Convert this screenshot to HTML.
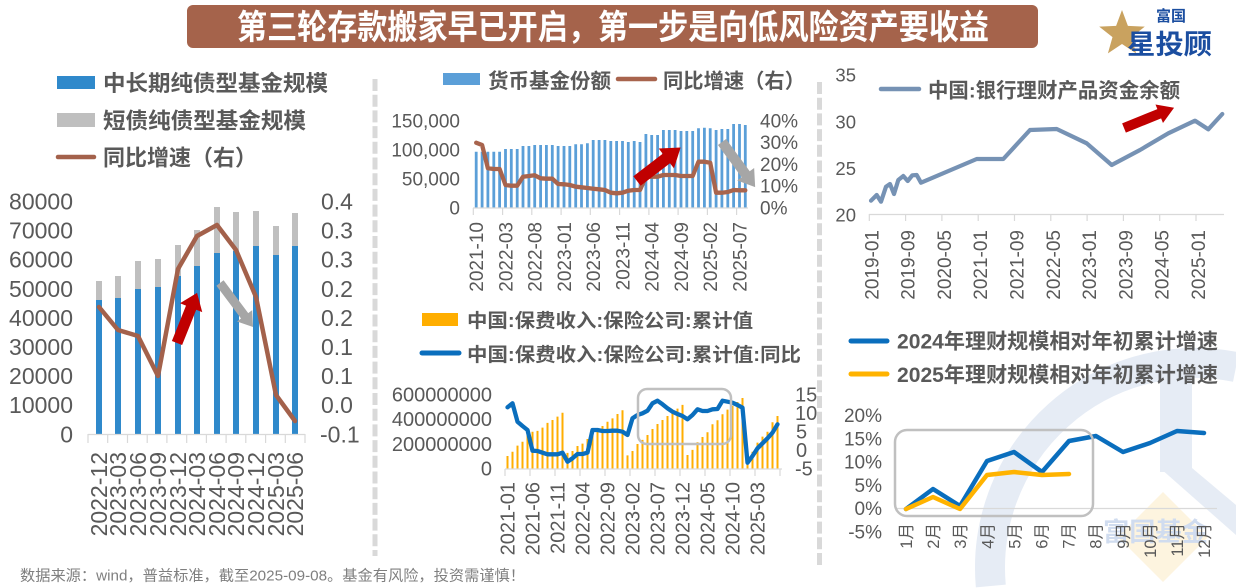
<!DOCTYPE html>
<html><head><meta charset="utf-8">
<style>
html,body{margin:0;padding:0;background:#fff;width:1236px;height:588px;overflow:hidden;}
svg{display:block;position:absolute;left:0;top:0;}
text{font-family:"Liberation Sans","Noto Sans CJK SC",sans-serif;}
.lb{fill:#595959;}
.lg{font-weight:bold;fill:#595959;}
</style></head><body>
<svg width="1236" height="588" viewBox="0 0 1236 588" xmlns="http://www.w3.org/2000/svg" overflow="hidden">
<rect width="1236" height="588" fill="#fff"/>

<!-- watermark -->
<g>
<path d="M990.8 586 A205 205 0 0 1 1236 367.1" fill="none" stroke="#e6ecf5" stroke-width="30"/>
<rect x="1160" y="360" width="32" height="112" fill="#e6ecf5"/>
<polygon points="1160,468 1192,468 1236,505 1236,535" fill="#e6ecf5"/>
<polygon points="1163,492 1208,537 1163,582 1118,537" fill="#fdf4df"/>
<text x="1103" y="541" font-size="26" font-weight="bold" fill="#d0dcef" textLength="105" lengthAdjust="spacingAndGlyphs">富国基金</text>
</g>

<!-- title banner -->
<rect x="187" y="5" width="851" height="43" rx="6" fill="#a5634b"/>
<text x="613" y="39" text-anchor="middle" font-size="34" font-weight="bold" fill="#fff" style="font-family:'Noto Sans CJK SC',sans-serif" textLength="752" lengthAdjust="spacingAndGlyphs">第三轮存款搬家早已开启，第一步是向低风险资产要收益</text>

<!-- logo -->
<polygon points="1122,10 1127.9,25.9 1144.8,26.6 1131.5,37.1 1136.1,53.4 1122,44 1107.9,53.4 1112.5,37.1 1099.2,26.6 1116.1,25.9" fill="#c9a25f"/>
<text x="1156" y="21" font-size="15" font-weight="bold" fill="#1b4ea0" style="font-family:'Noto Sans CJK SC',sans-serif">富国</text>
<text x="1127" y="54" font-size="27" font-weight="bold" fill="#1b4ea0" style="font-family:'Noto Sans CJK SC',sans-serif" textLength="85" lengthAdjust="spacingAndGlyphs">星投顾</text>

<!-- separators -->
<line x1="375" y1="79" x2="375" y2="556" stroke="#d9d9d9" stroke-width="5" stroke-dasharray="12 3.7"/>
<line x1="819.5" y1="82" x2="819.5" y2="568" stroke="#d9d9d9" stroke-width="5" stroke-dasharray="12 3.7"/>

<!-- ================= Chart 1 ================= -->
<rect x="57" y="76" width="38" height="13" fill="#2f89cb"/>
<text class="lg" x="103" y="91" font-size="22" textLength="225" lengthAdjust="spacingAndGlyphs">中长期纯债型基金规模</text>
<rect x="57" y="113" width="38" height="14" fill="#bfbfbf"/>
<text class="lg" x="103" y="128.5" font-size="22" textLength="203" lengthAdjust="spacingAndGlyphs">短债纯债型基金规模</text>
<line x1="58" y1="157" x2="94" y2="157" stroke="#a3614b" stroke-width="4.5" stroke-linecap="round"/>
<text class="lg" x="103" y="165.5" font-size="22">同比增速（右）</text>

<g font-size="23" class="lb" text-anchor="end">
<text x="73" y="442.3">0</text>
<text x="73" y="413.2">10000</text>
<text x="73" y="384.1">20000</text>
<text x="73" y="355">30000</text>
<text x="73" y="325.9">40000</text>
<text x="73" y="296.8">50000</text>
<text x="73" y="267.7">60000</text>
<text x="73" y="238.6">70000</text>
<text x="73" y="209.5">80000</text>
</g>
<g font-size="23" class="lb">
<text x="320" y="442.3">-0.1</text>
<text x="321" y="413.2">0.0</text>
<text x="321" y="384.1">0.1</text>
<text x="321" y="355">0.1</text>
<text x="321" y="325.9">0.2</text>
<text x="321" y="296.8">0.2</text>
<text x="321" y="267.7">0.3</text>
<text x="321" y="238.6">0.3</text>
<text x="321" y="209.5">0.4</text>
</g>
<path d="M99 281V300M118 276V298M138 261V289M158 259V287M178 245V276M197 230V266M217 207V253M236 212V251M256 211V246M276 226V255M295 213V246" stroke="#bfbfbf" stroke-width="6"/>
<path d="M99 300V434M118 298V434M138 289V434M158 287V434M178 276V434M197 266V434M217 253V434M236 251V434M256 246V434M276 255V434M295 246V434" stroke="#2f89cb" stroke-width="6"/>
<path d="M88 434.5H305M88 434V443M107.7 434V443M127.5 434V443M147.2 434V443M166.9 434V443M186.7 434V443M206.4 434V443M226.1 434V443M245.8 434V443M265.6 434V443M285.3 434V443M305 434V443" stroke="#d9d9d9" stroke-width="1.2" fill="none"/>
<polyline points="99,307 118,330 138,336 158,376 178,269 197,236 217,225 236,250 256,297 276,395 295,421" fill="none" stroke="#a3614b" stroke-width="4.5" stroke-linejoin="round" stroke-linecap="round"/>
<polygon transform="translate(177,343) rotate(-68.2)" points="0,-5.5 38,-5.5 38,-12 54,0 38,12 38,5.5 0,5.5" fill="#c00000"/>
<polygon transform="translate(220,283) rotate(53.1)" points="0,-4.5 41,-4.5 41,-9.5 55,0 41,9.5 41,4.5 0,4.5" fill="#a6a6a6"/>
<g font-size="23" class="lb" text-anchor="end">
<text transform="translate(106.8,452) rotate(-90)">2022-12</text>
<text transform="translate(125.8,452) rotate(-90)">2023-03</text>
<text transform="translate(145.8,452) rotate(-90)">2023-06</text>
<text transform="translate(165.8,452) rotate(-90)">2023-09</text>
<text transform="translate(185.8,452) rotate(-90)">2023-12</text>
<text transform="translate(204.8,452) rotate(-90)">2024-03</text>
<text transform="translate(224.8,452) rotate(-90)">2024-06</text>
<text transform="translate(243.8,452) rotate(-90)">2024-09</text>
<text transform="translate(263.8,452) rotate(-90)">2024-12</text>
<text transform="translate(283.8,452) rotate(-90)">2025-03</text>
<text transform="translate(302.8,452) rotate(-90)">2025-06</text>
</g>

<!-- ================= Chart 2 ================= -->
<rect x="443" y="73" width="37" height="12" fill="#5b9fd8"/>
<text class="lg" x="488" y="88" font-size="20.5" textLength="123" lengthAdjust="spacingAndGlyphs">货币基金份额</text>
<line x1="618" y1="79" x2="655" y2="79" stroke="#a8644d" stroke-width="4.5" stroke-linecap="round"/>
<text class="lg" x="663" y="88" font-size="20.3">同比增速（右）</text>

<g font-size="19" class="lb" text-anchor="end">
<text x="460" y="214.3">0</text>
<text x="460" y="185.3">50,000</text>
<text x="460" y="156.3">100,000</text>
<text x="460" y="127.3">150,000</text>
</g>
<g font-size="19" class="lb">
<text x="760" y="214.3">0%</text>
<text x="760" y="192.5">10%</text>
<text x="760" y="170.8">20%</text>
<text x="760" y="149">30%</text>
<text x="760" y="127.3">40%</text>
</g>
<path d="M476.2 151.7V207.5M482.1 151.7V207.5M487.9 151.7V207.5M493.8 151.7V207.5M499.6 151.7V207.5M505.5 149V207.5M511.3 149V207.5M517.2 149V207.5M523 146V207.5M528.9 146V207.5M534.7 145V207.5M540.6 145V207.5M546.4 145V207.5M552.3 145V207.5M558.1 146V207.5M564 146V207.5M569.8 146V207.5M575.7 144.3V207.5M581.5 144.3V207.5M587.4 143.3V207.5M593.2 140V207.5M599.1 140V207.5M604.9 140V207.5M610.8 141V207.5M616.6 141V207.5M622.5 141V207.5M628.3 142V207.5M634.2 141V207.5M640 142V207.5M645.9 134V207.5M651.7 135V207.5M657.6 135V207.5M663.4 130V207.5M669.3 130V207.5M675.1 130V207.5M681 131V207.5M686.8 131V207.5M692.7 131V207.5M698.5 128.3V207.5M704.4 127.7V207.5M710.2 128.3V207.5M716.1 130V207.5M721.9 129V207.5M727.8 129V207.5M733.6 124V207.5M739.5 124V207.5M745.3 125V207.5" stroke="#5b9fd8" stroke-width="2.8"/>
<path d="M473 208H748M473.3 208V215M502.6 208V215M531.8 208V215M561.1 208V215M590.3 208V215M619.6 208V215M648.9 208V215M678.1 208V215M707.4 208V215M736.6 208V215" stroke="#d9d9d9" stroke-width="1.2" fill="none"/>
<polyline points="476.2,142.7 482.1,145 487.9,168.3 493.8,169 499.6,169 505.5,185 511.3,185.7 517.2,185.7 523,176.7 528.9,176 534.7,175.3 540.6,178.3 546.4,178.7 552.3,178.7 558.1,184 564,184.3 569.8,185 575.7,186.7 581.5,187.3 587.4,188 593.2,188.7 599.1,189.3 604.9,190 610.8,192.7 616.6,193.3 622.5,192.7 628.3,190.7 634.2,190 640,190 645.9,176.7 651.7,176.7 657.6,176.7 663.4,175 669.3,175 675.1,175 681,176 686.8,176 692.7,176 698.5,161.7 704.4,161.7 710.2,162.7 716.1,192.7 721.9,192.7 727.8,192 733.6,190 739.5,190.3 745.3,190.3" fill="none" stroke="#a8644d" stroke-width="4.3" stroke-linejoin="round" stroke-linecap="round"/>
<polygon transform="translate(637,181) rotate(-37.5)" points="0,-6 37,-6 37,-12.5 55,0 37,12.5 37,6 0,6" fill="#c00000"/>
<polygon transform="translate(722,142) rotate(53.7)" points="0,-5 40,-5 40,-10.5 56,0 40,10.5 40,5 0,5" fill="#a6a6a6"/>
<g font-size="19" class="lb" text-anchor="end">
<text transform="translate(483,222) rotate(-90)">2021-10</text>
<text transform="translate(512.3,222) rotate(-90)">2022-03</text>
<text transform="translate(541.5,222) rotate(-90)">2022-08</text>
<text transform="translate(570.8,222) rotate(-90)">2023-01</text>
<text transform="translate(600,222) rotate(-90)">2023-06</text>
<text transform="translate(629.3,222) rotate(-90)">2023-11</text>
<text transform="translate(658.5,222) rotate(-90)">2024-04</text>
<text transform="translate(687.8,222) rotate(-90)">2024-09</text>
<text transform="translate(717,222) rotate(-90)">2025-02</text>
<text transform="translate(746.3,222) rotate(-90)">2025-07</text>
</g>

<!-- ================= Chart 3 ================= -->
<rect x="422" y="313" width="36" height="13" fill="#ffae00"/>
<text class="lg" x="467" y="327" font-size="19" textLength="286" lengthAdjust="spacingAndGlyphs">中国:保费收入:保险公司:累计值</text>
<line x1="422" y1="353" x2="459" y2="353" stroke="#0a6ebd" stroke-width="5" stroke-linecap="round"/>
<text class="lg" x="467" y="361" font-size="19" textLength="334" lengthAdjust="spacingAndGlyphs">中国:保费收入:保险公司:累计值:同比</text>

<g font-size="20" class="lb" text-anchor="end">
<text x="492" y="475.5">0</text>
<text x="492" y="450.8">200000000</text>
<text x="492" y="426.1">400000000</text>
<text x="492" y="401.4">600000000</text>
</g>
<g font-size="20" class="lb">
<text x="795" y="475.5">-5</text>
<text x="796" y="457">0</text>
<text x="796" y="438.5">5</text>
<text x="795" y="420">10</text>
<text x="795" y="401.4">15</text>
</g>
<path d="M507.5 456V468.5M512.5 451.7V468.5M517.5 445.6V468.5M522.5 441.7V468.5M527.5 435V468.5M532.5 431.7V468.5M537.5 430.9V468.5M542.5 427.6V468.5M547.5 422.9V468.5M552.5 420V468.5M557.5 416.6V468.5M562.5 412.7V468.5M567.5 452.9V468.5M572.5 451V468.5M577.5 446V468.5M582.5 443.6V468.5M587.5 439V468.5M592.5 430V468.5M597.5 429.1V468.5M602.5 426V468.5M607.5 421.7V468.5M612.5 418.4V468.5M617.5 414V468.5M622.5 410.3V468.5M627.5 455.4V468.5M632.5 451V468.5M637.5 444V468.5M642.5 439.9V468.5M647.5 435V468.5M652.5 429V468.5M657.5 424V468.5M662.5 420V468.5M667.5 416V468.5M672.5 413.3V468.5M677.5 408.6V468.5M682.5 404.9V468.5M687.5 455V468.5M692.5 449.9V468.5M697.5 442.3V468.5M702.5 437V468.5M707.5 432.3V468.5M712.5 424.3V468.5M717.5 420.3V468.5M722.5 414.3V468.5M727.5 409.6V468.5M732.5 405.7V468.5M737.5 402V468.5M742.5 398V468.5M747.5 453.5V468.5M752.5 451.7V468.5M757.5 442.6V468.5M762.5 436.6V468.5M767.5 431.7V468.5M772.5 422.3V468.5M777.5 416V468.5" stroke="#ffae00" stroke-width="2"/>
<path d="M505 469H782M505 469V476M530 469V476M555 469V476M580 469V476M605 469V476M630 469V476M655 469V476M680 469V476M705 469V476M730 469V476M755 469V476M780 469V476" stroke="#d9d9d9" stroke-width="1.2" fill="none"/>
<polyline points="507.5,407.3 512.5,403.3 517.5,421.7 522.5,426 527.5,430 532.5,450.7 537.5,451 542.5,452.7 547.5,454.3 552.5,454.3 557.5,454.3 562.5,452.7 567.5,461.7 572.5,458.3 577.5,454 582.5,454 587.5,452.7 592.5,430 597.5,430 602.5,431 607.5,431 612.5,430.7 617.5,430.7 622.5,431.7 627.5,435 632.5,418.3 637.5,415 642.5,413.3 647.5,410.7 652.5,403.3 657.5,400.7 662.5,404.3 667.5,408.3 672.5,411.7 677.5,414 682.5,416 687.5,419.3 692.5,415 697.5,409.3 702.5,411 707.5,411 712.5,409.3 717.5,409 722.5,400.7 727.5,401.7 732.5,402.7 737.5,405 742.5,407.7 747.5,462.7 752.5,456 757.5,448.3 762.5,443.3 767.5,438.3 772.5,432.7 777.5,424.3" fill="none" stroke="#0a6ebd" stroke-width="4.3" stroke-linejoin="round" stroke-linecap="round"/>
<rect x="638" y="389" width="93" height="55" rx="9" fill="none" stroke="#c0c0c0" stroke-width="2.5"/>
<g font-size="20" class="lb" text-anchor="end">
<text transform="translate(514.7,482) rotate(-90)">2021-01</text>
<text transform="translate(539.7,482) rotate(-90)">2021-06</text>
<text transform="translate(564.7,482) rotate(-90)">2021-11</text>
<text transform="translate(589.7,482) rotate(-90)">2022-04</text>
<text transform="translate(614.7,482) rotate(-90)">2022-09</text>
<text transform="translate(639.7,482) rotate(-90)">2023-02</text>
<text transform="translate(664.7,482) rotate(-90)">2023-07</text>
<text transform="translate(689.7,482) rotate(-90)">2023-12</text>
<text transform="translate(714.7,482) rotate(-90)">2024-05</text>
<text transform="translate(739.7,482) rotate(-90)">2024-10</text>
<text transform="translate(764.7,482) rotate(-90)">2025-03</text>
</g>

<!-- ================= Chart 4 ================= -->
<line x1="881" y1="89" x2="919" y2="89" stroke="#7692b4" stroke-width="4.5" stroke-linecap="round"/>
<text class="lg" x="928" y="97.5" font-size="20.5" textLength="252" lengthAdjust="spacingAndGlyphs">中国:银行理财产品资金余额</text>
<g font-size="18.5" class="lb" text-anchor="end">
<text x="856" y="221.7">20</text>
<text x="856" y="175">25</text>
<text x="856" y="128.4">30</text>
<text x="856" y="81.7">35</text>
</g>
<path d="M869 214.5H1224M869.3 214V221M905.6 214V221M941.9 214V221M978.2 214V221M1014.5 214V221M1050.8 214V221M1087.1 214V221M1123.4 214V221M1159.7 214V221M1196 214V221" stroke="#d9d9d9" stroke-width="1.2" fill="none"/>
<polyline points="871,200.7 876.7,195 881,201.7 886,186.7 890,184 894,194 898.3,180 903.3,176 907.7,181 912.3,175.3 916.7,175 921,182.7 976.7,159 1003.3,159 1030,130 1056.7,129 1086.7,143.3 1111.7,165 1140,150 1168.3,133.3 1195,120.7 1208.3,129.3 1222.3,114" fill="none" stroke="#7692b4" stroke-width="4.2" stroke-linejoin="round" stroke-linecap="round"/>
<polygon transform="translate(1124,128) rotate(-22)" points="0,-5 38,-5 38,-10 54,0 38,10 38,5 0,5" fill="#c00000"/>
<g font-size="19" class="lb" text-anchor="end">
<text transform="translate(878.3,230) rotate(-90)">2019-01</text>
<text transform="translate(914.6,230) rotate(-90)">2019-09</text>
<text transform="translate(950.9,230) rotate(-90)">2020-05</text>
<text transform="translate(987.2,230) rotate(-90)">2021-01</text>
<text transform="translate(1023.5,230) rotate(-90)">2021-09</text>
<text transform="translate(1059.8,230) rotate(-90)">2022-05</text>
<text transform="translate(1096.1,230) rotate(-90)">2023-01</text>
<text transform="translate(1132.4,230) rotate(-90)">2023-09</text>
<text transform="translate(1168.7,230) rotate(-90)">2024-05</text>
<text transform="translate(1205,230) rotate(-90)">2025-01</text>
</g>

<!-- ================= Chart 5 ================= -->
<line x1="851" y1="341" x2="887" y2="341" stroke="#0a6ebd" stroke-width="5" stroke-linecap="round"/>
<text class="lg" x="897" y="348.5" font-size="21" textLength="321" lengthAdjust="spacingAndGlyphs">2024年理财规模相对年初累计增速</text>
<line x1="851" y1="374" x2="887" y2="374" stroke="#ffb300" stroke-width="5" stroke-linecap="round"/>
<text class="lg" x="897" y="382" font-size="21" textLength="321" lengthAdjust="spacingAndGlyphs">2025年理财规模相对年初累计增速</text>
<g font-size="19" class="lb" text-anchor="end">
<text x="882" y="538.3">-5%</text>
<text x="882" y="515.1">0%</text>
<text x="882" y="491.8">5%</text>
<text x="882" y="468.6">10%</text>
<text x="882" y="445.3">15%</text>
<text x="882" y="422.1">20%</text>
</g>
<line x1="895" y1="508.5" x2="1217" y2="508.5" stroke="#d9d9d9" stroke-width="1.2"/>
<polyline points="906,509 933,489 960,506 987,461 1014,452 1042,472 1069,441 1096,436 1123,452 1150,443 1177,431 1204,433" fill="none" stroke="#0a6ebd" stroke-width="4.5" stroke-linejoin="round" stroke-linecap="round"/>
<polyline points="906,509 933,497 960,509 987,475 1014,472 1042,475 1069,474" fill="none" stroke="#ffb300" stroke-width="4.5" stroke-linejoin="round" stroke-linecap="round"/>
<rect x="895" y="430" width="198" height="86" rx="12" fill="none" stroke="#c0c0c0" stroke-width="2.5"/>
<g font-size="16.5" class="lb" text-anchor="end">
<text transform="translate(912,523) rotate(-90)">1月</text>
<text transform="translate(939.1,523) rotate(-90)">2月</text>
<text transform="translate(966.2,523) rotate(-90)">3月</text>
<text transform="translate(993.3,523) rotate(-90)">4月</text>
<text transform="translate(1020.4,523) rotate(-90)">5月</text>
<text transform="translate(1047.5,523) rotate(-90)">6月</text>
<text transform="translate(1074.6,523) rotate(-90)">7月</text>
<text transform="translate(1101.7,523) rotate(-90)">8月</text>
<text transform="translate(1128.8,523) rotate(-90)">9月</text>
<text transform="translate(1155.9,523) rotate(-90)">10月</text>
<text transform="translate(1183,523) rotate(-90)">11月</text>
<text transform="translate(1210.1,523) rotate(-90)">12月</text>
</g>

<!-- footer -->
<text x="20" y="580.5" font-size="15" fill="#7f7f7f" textLength="505" lengthAdjust="spacingAndGlyphs">数据来源：wind，普益标准，截至2025-09-08。基金有风险，投资需谨慎！</text>
</svg>
</body></html>
